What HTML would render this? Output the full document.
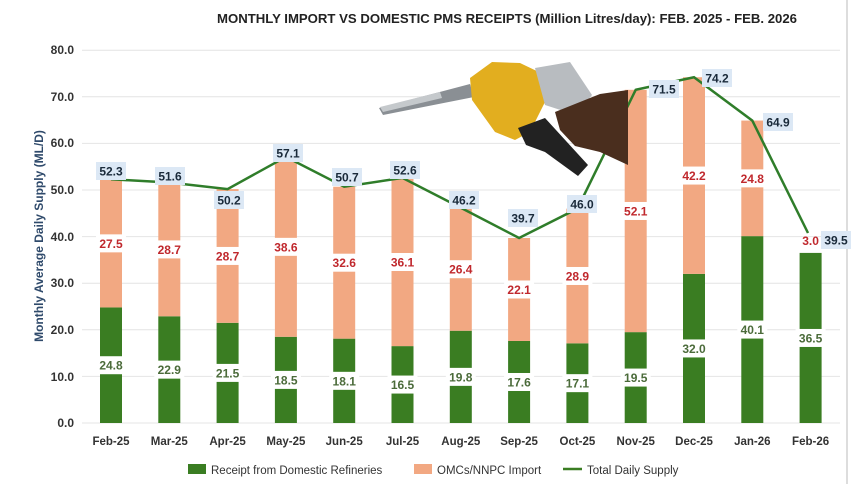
<!DOCTYPE html>
<html><head><meta charset="utf-8"><style>
body{margin:0;background:#fff}
svg{display:block;font-family:"Liberation Sans",Arial,sans-serif}
</style></head><body>
<svg width="860" height="484" viewBox="0 0 860 484" xmlns="http://www.w3.org/2000/svg">
<rect width="860" height="484" fill="#fff"/>
<line x1="847" y1="0" x2="847" y2="484" stroke="#ddd" stroke-width="2"/>
<text x="507" y="23" text-anchor="middle" font-size="13.2" font-weight="bold" fill="#222" textLength="580" lengthAdjust="spacingAndGlyphs">MONTHLY IMPORT VS DOMESTIC PMS RECEIPTS (Million Litres/day): FEB. 2025 - FEB. 2026</text>
<g stroke="#e4e4e4" stroke-width="1">
<line x1="82" y1="423" x2="840" y2="423"/><line x1="82" y1="376.4" x2="840" y2="376.4"/><line x1="82" y1="329.8" x2="840" y2="329.8"/><line x1="82" y1="283.2" x2="840" y2="283.2"/><line x1="82" y1="236.6" x2="840" y2="236.6"/><line x1="82" y1="190" x2="840" y2="190"/><line x1="82" y1="143.4" x2="840" y2="143.4"/><line x1="82" y1="96.8" x2="840" y2="96.8"/><line x1="82" y1="50.2" x2="840" y2="50.2"/>
</g>
<g font-size="12" font-weight="bold" fill="#333" text-anchor="end">
<text x="74" y="427">0.0</text><text x="74" y="381">10.0</text><text x="74" y="334">20.0</text><text x="74" y="287">30.0</text><text x="74" y="241">40.0</text><text x="74" y="194">50.0</text><text x="74" y="147">60.0</text><text x="74" y="101">70.0</text><text x="74" y="54">80.0</text>
</g>
<text transform="translate(43,236) rotate(-90)" text-anchor="middle" font-size="12" font-weight="bold" fill="#2f4a6b">Monthly Average Daily Supply (ML/D)</text>
<g id="bars"></g>
<g font-size="11.5" font-weight="bold" fill="#333" text-anchor="middle">
<text x="111" y="445">Feb-25</text><text x="169.3" y="445">Mar-25</text><text x="227.6" y="445">Apr-25</text><text x="285.9" y="445">May-25</text><text x="344.2" y="445">Jun-25</text><text x="402.5" y="445">Jul-25</text><text x="460.8" y="445">Aug-25</text><text x="519.1" y="445">Sep-25</text><text x="577.4" y="445">Oct-25</text><text x="635.7" y="445">Nov-25</text><text x="694" y="445">Dec-25</text><text x="752.3" y="445">Jan-26</text><text x="810.6" y="445">Feb-26</text>
</g>
<g font-size="11.5" fill="#333">
<rect x="188" y="464" width="18" height="10" fill="#3a7d22"/><text x="211" y="474">Receipt from Domestic Refineries</text>
<rect x="414" y="464" width="18" height="10" fill="#f2a882"/><text x="437" y="474">OMCs/NNPC Import</text>
<line x1="563" y1="469" x2="582" y2="469" stroke="#3a7d22" stroke-width="2.5"/><text x="587" y="474">Total Daily Supply</text>
</g>
</svg>
<script>
const d=[[24.8,27.5],[22.9,28.7],[21.5,28.7],[18.5,38.6],[18.1,32.6],[16.5,36.1],[19.8,26.4],[17.6,22.1],[17.1,28.9],[19.5,52.1],[32.0,42.2],[40.1,24.8],[36.5,3.0]];
const tot=[52.3,51.6,50.2,57.1,50.7,52.6,46.2,39.7,46.0,71.5,74.2,64.9,39.5];
const lab=[[111,171],[170,176],[229,200],[288,153],[347,177],[405,170],[464,200],[523,218],[582,204],[664,89],[717,78],[778,122],[836,240]];
const Y=v=>423-v*4.66, X=i=>111+i*58.3;
let s='',t='',pts=[];
const box=(x,y,txt,fill,bg,w)=>`<rect x="${x-w/2}" y="${y-9}" width="${w}" height="18" fill="${bg}"/><text x="${x}" y="${y+4.5}" text-anchor="middle" font-size="12" font-weight="bold" fill="${fill}">${txt}</text>`;
d.forEach((v,i)=>{const x=X(i),g=v[0],o=v[1];
s+=`<rect x="${x-11}" y="${Y(g)}" width="22" height="${423-Y(g)}" fill="#3a7d22"/>`;
if(i<12)s+=`<rect x="${x-11}" y="${Y(tot[i])}" width="22" height="${Y(g)-Y(tot[i])}" fill="#f2a882"/>`;
t+=box(x,(Y(g)+423)/2,g.toFixed(1),'#4b6b3a','#fff',30);
if(i<12)t+=box(x,(Y(g)+Y(tot[i]))/2,o.toFixed(1),'#c0282d','#fff',30);
else t+=`<text x="${x}" y="${Y(tot[i])+6}" text-anchor="middle" font-size="12" font-weight="bold" fill="#c0282d">3.0</text>`;
pts.push(x+','+Y(tot[i]));});
pts[12]='808,233';
let line=`<polyline points="${pts.join(' ')}" fill="none" stroke="#2f7d2a" stroke-width="2.5"/>`;
let lb='';tot.forEach((v,i)=>lb+=box(lab[i][0],lab[i][1],v.toFixed(1),'#1a2a3a','#dce8f5',30));
const img=`<g>
<path d="M379,108 L470,84 L474,97 L383,115 Z" fill="#8a8f94"/>
<path d="M380,107 L440,92 L442,98 L383,112Z" fill="#c5c9cc"/>
<path d="M470,78 L492,62 L520,63 L543,74 L546,100 L530,132 L515,140 L495,132 L472,100 Z" fill="#e2ae1f"/>
<path d="M518,128 L545,118 L588,165 L578,176 L545,152 L526,145 Z" fill="#222"/>
<path d="M535,68 L570,62 L592,95 L576,115 L545,105 Z" fill="#b8bcc0"/>
<path d="M555,112 L600,94 L628,90 L628,165 L600,152 L575,146 L560,130 Z" fill="#4a2e1e"/>
</g>`;
document.getElementById('bars').outerHTML=s+line+t+lb+img;
</script>
</body></html>
